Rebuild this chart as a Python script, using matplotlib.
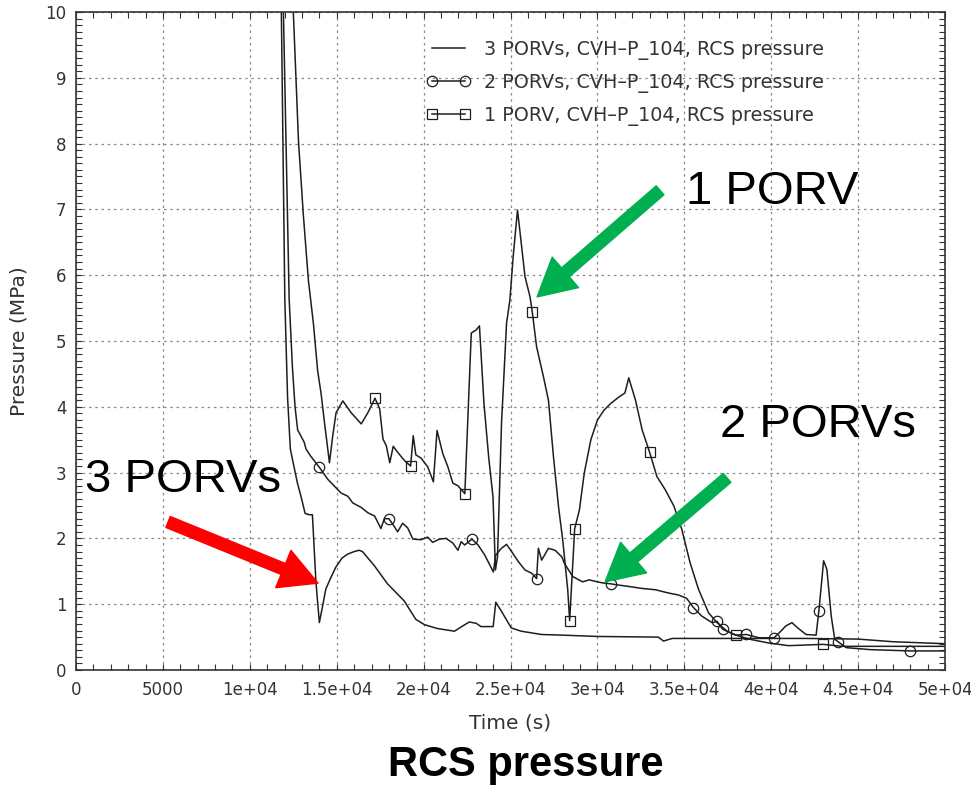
import numpy as np
import matplotlib
matplotlib.use('Agg')
import matplotlib.pyplot as plt
from matplotlib.ticker import MultipleLocator, FixedLocator, FixedFormatter

plt.rcParams.update({
    'font.family' : ['DejaVu Sans'],
    'font.size'   : 12,
    'text.color'  : '#333333',
    'axes.labelcolor': '#333333',
    'xtick.color' : '#333333',
    'ytick.color' : '#333333',
})

# ── RCS pressure, 3 PORVs (plain line) ───────────────────────
t_3porv = [11700, 12012, 12170, 12330, 12470, 12730, 12960, 13180, 13400, 13600,
           13800, 14000, 14170, 14370, 14620, 14940, 15300, 15620, 16000, 16290,
           16480, 17150, 17920, 18880, 19550, 20040, 20800, 21770, 22250, 22630,
           23020, 23300, 24000, 24150, 24460, 25040, 25610, 26770, 28000, 30000,
           33500, 33800, 34300, 38000, 42000, 45000, 47000, 50000]
p_3porv = [12.5, 5.64, 4.15, 3.36, 3.18, 2.85, 2.62, 2.38, 2.36, 2.36,
           1.35, 0.72, 0.95, 1.23, 1.38, 1.56, 1.70, 1.76, 1.80, 1.82,
           1.80, 1.59, 1.31, 1.05, 0.77, 0.69, 0.63, 0.59, 0.67, 0.73,
           0.71, 0.66, 0.66, 1.03, 0.90, 0.64, 0.59, 0.54, 0.53, 0.51,
           0.50, 0.44, 0.48, 0.48, 0.48, 0.47, 0.43, 0.40]

# ── RCS pressure, 2 PORVs (circles) ──────────────────────────
t_2porv = [11780, 12262, 12450, 12600, 12750, 12850, 13130, 13230, 13500, 14000,
           14480, 14770, 15250, 15640, 15920, 16410, 16790, 17180, 17540, 17740,
           18000, 18240, 18500, 18790, 19080, 19380, 19850, 20230, 20520, 20910,
           21290, 21680, 21970, 22160, 22360, 22780, 23130, 23510, 23800, 24010,
           24150, 24480, 24770, 25060, 25440, 25830, 26220, 26500, 26600, 26790,
           27180, 27560, 27950, 28100, 28580, 29150, 29520, 30000, 30380, 30760,
           31240, 31800, 32560, 33330, 34090, 34660, 35130, 35520, 36000, 36590,
           36880, 37200, 37940, 38560, 39290, 40160, 40550, 40840, 41190, 41520,
           42000, 42580, 42740, 42930, 43010, 43200, 43450, 43650, 43840, 44320,
           45680, 48000, 50000]
p_2porv = [12.0, 5.64, 4.60, 4.00, 3.65, 3.60, 3.46, 3.36, 3.25, 3.08,
           2.90, 2.82, 2.69, 2.64, 2.54, 2.47, 2.39, 2.34, 2.15, 2.30,
           2.30, 2.21, 2.10, 2.23, 2.16, 1.99, 1.98, 2.02, 1.94, 1.99,
           2.00, 1.93, 1.82, 1.95, 1.90, 1.99, 1.90, 1.75, 1.60, 1.49,
           1.75, 1.85, 1.91, 1.80, 1.65, 1.52, 1.47, 1.39, 1.85, 1.67,
           1.85, 1.82, 1.72, 1.62, 1.42, 1.34, 1.37, 1.34, 1.32, 1.31,
           1.29, 1.27, 1.24, 1.22, 1.17, 1.14, 1.09, 0.95, 0.82, 0.72,
           0.74, 0.62, 0.53, 0.54, 0.49, 0.49, 0.59, 0.67, 0.72, 0.64,
           0.54, 0.53, 0.90, 1.43, 1.66, 1.53, 0.82, 0.47, 0.43, 0.34,
           0.31, 0.29, 0.29]
mark_2porv = [14000, 18000, 22780, 26500, 30760, 35520, 36880, 37200,
              38560, 40160, 42740, 43840, 48000]

# ── RCS pressure, 1 PORV (squares) ───────────────────────────
t_1porv = [12350, 12800, 13080, 13370, 13660, 13900, 14100, 14300, 14580, 14770,
           14960, 15350, 15830, 16410, 16790, 17200, 17470, 17660, 17850, 18050,
           18250, 18530, 18910, 19250, 19400, 19550, 19850, 20230, 20560, 20770,
           21100, 21390, 21680, 21970, 22370, 22740, 23030, 23210, 23470, 23740,
           23990, 24130, 24250, 24480, 24770, 24960, 25150, 25400, 25640, 25830,
           26120, 26250, 26500, 26890, 27180, 27470, 27760, 28000, 28290, 28400,
           28690, 28960, 29240, 29620, 30000, 30380, 30760, 31240, 31580, 31800,
           32190, 32570, 33000, 33420, 33900, 34400, 34850, 35330, 35810, 36390,
           36880, 37460, 37980, 38710, 39870, 41000, 42980, 44100, 47000, 50000]
p_1porv = [11.0, 8.03, 6.91, 5.92, 5.26, 4.55, 4.20, 3.75, 3.15, 3.56,
           3.91, 4.09, 3.91, 3.74, 3.91, 4.13, 3.97, 3.51, 3.41, 3.15,
           3.40, 3.30, 3.18, 3.10, 3.56, 3.27, 3.22, 3.09, 2.86, 3.64,
           3.29, 3.09, 2.84, 2.80, 2.68, 5.12, 5.17, 5.23, 4.05, 3.24,
           2.63, 1.52, 1.72, 3.75, 5.27, 5.62, 6.28, 6.99, 6.43, 5.98,
           5.67, 5.44, 4.91, 4.46, 4.10, 3.24, 2.48, 1.98, 1.22, 0.75,
           2.15, 2.43, 2.99, 3.50, 3.80, 3.95, 4.05, 4.15, 4.21, 4.44,
           4.10, 3.65, 3.31, 2.94, 2.74, 2.49, 2.14, 1.63, 1.23, 0.87,
           0.72, 0.59, 0.53, 0.47, 0.41, 0.37, 0.39, 0.36, 0.36, 0.36]
mark_1porv = [17200, 19250, 22370, 26250, 28400, 28690, 33000, 37980, 42980]

xtick_vals   = [0, 5000, 10000, 15000, 20000, 25000, 30000, 35000, 40000, 45000, 50000]
xtick_labels = ['0', '5000', '1e+04', '1.5e+04', '2e+04', '2.5e+04', '3e+04',
                '3.5e+04', '4e+04', '4.5e+04', '5e+04']

LINE = '#1e1e1e'
GREEN = '#00B050'
RED = '#FF0000'


def marker_idx(t, marks):
    return [int(np.argmin(np.abs(np.asarray(t) - m))) for m in marks]


fig = plt.figure(figsize=(9.71, 7.89), dpi=100)
ax = fig.add_axes([0.0783, 0.1508, 0.8950, 0.8340])

ax.plot(t_3porv, p_3porv, color=LINE, lw=1.1,
        label='3 PORVs, CVH\u2013P_104, RCS pressure')
ax.plot(t_2porv, p_2porv, color=LINE, lw=1.1, marker='o', ms=7.5,
        mfc='none', mec=LINE, mew=0.9, markevery=marker_idx(t_2porv, mark_2porv),
        label='2 PORVs, CVH\u2013P_104, RCS pressure')
ax.plot(t_1porv, p_1porv, color=LINE, lw=1.1, marker='s', ms=6.5,
        mfc='none', mec=LINE, mew=0.9, markevery=marker_idx(t_1porv, mark_1porv),
        label='1 PORV, CVH\u2013P_104, RCS pressure')

ax.set_xlim(0, 50000)
ax.set_ylim(0, 10)
ax.xaxis.set_major_locator(FixedLocator(xtick_vals))
ax.xaxis.set_major_formatter(FixedFormatter(xtick_labels))
ax.xaxis.set_minor_locator(MultipleLocator(1000))
ax.yaxis.set_major_locator(MultipleLocator(1))
ax.yaxis.set_minor_locator(MultipleLocator(0.1))
ax.tick_params(which='both', direction='in', top=True, right=True,
               length=4.5, width=0.8, color='#333333')
ax.tick_params(axis='x', pad=8, labelsize=12)
ax.tick_params(axis='y', pad=7, labelsize=12)
ax.grid(True, which='major', color='#8a8a8a', linestyle=(0, (2, 3)), lw=0.9)
for sp in ax.spines.values():
    sp.set_color('#333333')
    sp.set_linewidth(1.2)

ax.set_xlabel('Time (s)', fontsize=14.5, labelpad=10)
ax.set_ylabel('Pressure (MPa)', fontsize=14.5, labelpad=12)

ax.legend(loc='upper left', bbox_to_anchor=(0.403, 0.958), frameon=False,
          numpoints=2, handlelength=2.3, handletextpad=0.7, labelspacing=0.68,
          borderpad=0, borderaxespad=0, fontsize=13.8)

# ── Callouts ─────────────────────────────────────────────────
arrow_kw = dict(shrinkA=0, shrinkB=0, mutation_scale=10,
                arrowstyle='simple,head_length=2.7,head_width=2.9,tail_width=0.85')
ax.annotate('', xy=(26526, 5.67), xytext=(33603, 7.29), annotation_clip=False,
            arrowprops=dict(color=GREEN, **arrow_kw))
ax.annotate('', xy=(30439, 1.34), xytext=(37459, 2.92), annotation_clip=False,
            arrowprops=dict(color=GREEN, **arrow_kw))
ax.annotate('', xy=(13925, 1.32), xytext=(5294, 2.25), annotation_clip=False,
            arrowprops=dict(color=RED, **arrow_kw))

call_kw = dict(fontsize=34, family=['Liberation Sans', 'DejaVu Sans'],
               color='black', ha='center', va='center', clip_on=False)
ax.text(40048, 7.26, '1 PORV', **call_kw)
ax.text(42695, 3.72, '2 PORVs', **call_kw)
ax.text(6157, 2.89, '3 PORVs', **call_kw)

fig.text(0.541, 0.030, 'RCS pressure', fontsize=30, fontweight='bold',
         family=['Liberation Sans', 'DejaVu Sans'], color='black',
         ha='center', va='center')

fig.savefig('out.png', dpi=100)
